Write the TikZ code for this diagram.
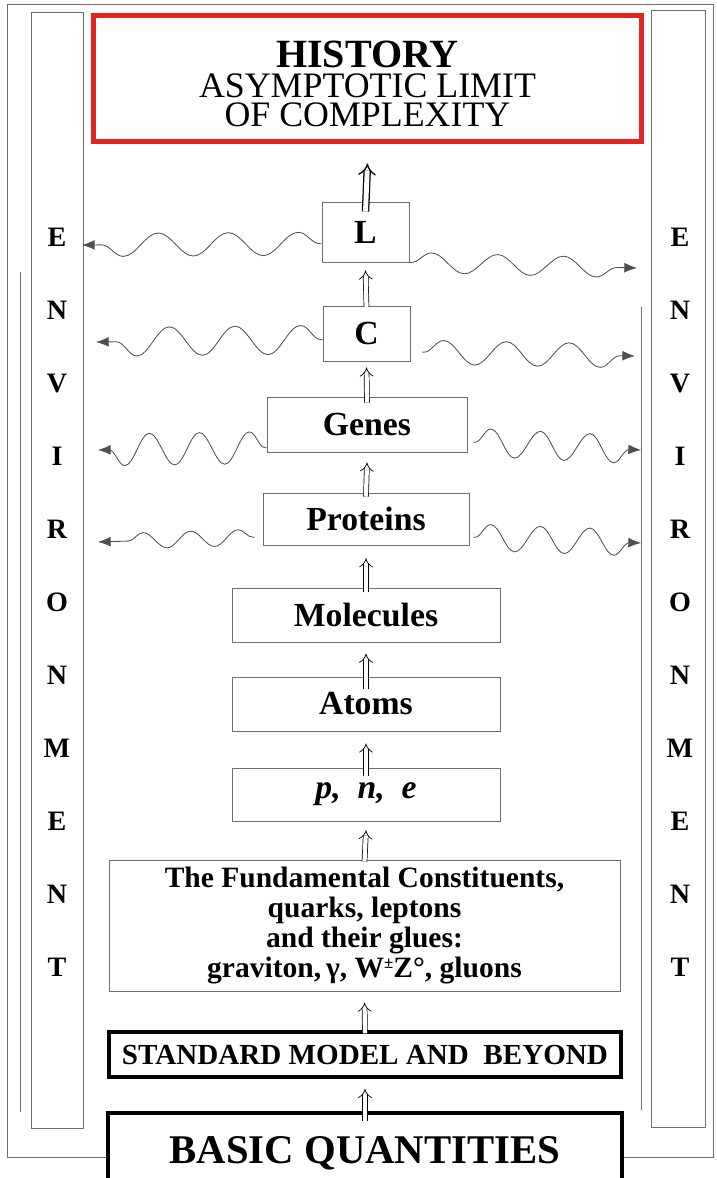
\documentclass[tikz,border=0pt]{standalone}
\usepackage{fontspec}
\setmainfont{Liberation Serif}
\usepackage{xcolor}
\usepackage{tikz}
\usetikzlibrary{arrows.meta, decorations.pathmorphing}
\definecolor{histred}{RGB}{228,36,32}
\definecolor{framegray}{RGB}{110,110,110}
\definecolor{wavegray}{RGB}{80,80,80}

\begin{document}
\begin{tikzpicture}[
        stage/.style={rectangle, draw=framegray, line width=0.6pt, inner sep=0pt,
                      align=center, font=\bfseries\fontsize{24}{26}\selectfont},
        heavy/.style={rectangle, draw=black, line width=2.6pt, fill=white,
                      inner sep=0pt, align=center},
        envtext/.style={inner sep=0pt, align=center,
                        font=\bfseries\fontsize{20}{51.9}\selectfont},
        uparrow/.style={double, double distance=3pt, line width=0.5pt, -{Implies}},
        wave/.style={wavegray, line width=0.6pt, decorate,
                     decoration={snake, segment length=1.6cm, amplitude=0.28cm,
                                 pre length=1pt, post length=0.25cm},
                     -{Latex[length=9pt, width=7pt]}}
      ]
        \useasboundingbox (-9.15,0) rectangle (8.75,-29.45);
        \clip (-9.15,0) rectangle (8.75,-29.45);
        % Frame and environment columns
        \draw[framegray, line width=0.6pt] (-8.975,-0.1) rectangle (8.675,-28.925);
        \draw[framegray, line width=0.6pt] (-8.375,-0.3) rectangle (-7.075,-28.2);
        \draw[framegray, line width=0.6pt] (7.125,-0.25) rectangle (8.475,-28.175);
        \draw[framegray, line width=0.6pt] (-8.65,-6.8) -- (-8.65,-27.8);
        \draw[framegray, line width=0.6pt] (6.875,-7.675) -- (6.875,-27.75);
        % Nodes — manually placed
        \node[draw=histred, line width=3.8pt, minimum width=13.7cm,
              minimum height=3.15cm, inner sep=0pt, align=center,
              font=\fontsize{25.5}{21}\selectfont] (history) at (0.0375,-1.9625)
          {\rule{0pt}{27pt}{\bfseries\fontsize{28.5}{21}\selectfont HISTORY}\\ASYMPTOTIC LIMIT\\OF COMPLEXITY};
        \node[stage, minimum width=2.175cm, minimum height=1.5cm] (L) at (-0.0125,-5.8) {L};
        \node[stage, minimum width=2.175cm, minimum height=1.375cm] (C) at (0.0125,-8.3375) {C};
        \node[stage, minimum width=5cm, minimum height=1.375cm] (genes) at (0.025,-10.6125) {Genes};
        \node[stage, minimum width=5.15cm, minimum height=1.3cm] (proteins) at (0,-12.975) {Proteins};
        \node[stage, minimum width=6.7cm, minimum height=1.35cm] (molecules) at (0,-15.375) {Molecules};
        \node[stage, minimum width=6.7cm, minimum height=1.35cm] (atoms) at (0,-17.6) {Atoms};
        \node[stage, minimum width=6.7cm, minimum height=1.325cm] (pne) at (0,-19.8625)
          {\itshape p,\enspace n,\enspace e};
        \node[stage, minimum width=12.775cm, minimum height=3.275cm,
              font=\bfseries\fontsize{21}{21.3}\selectfont] (fund) at (-0.0375,-23.1375)
          {The Fundamental Constituents,\\quarks, leptons\\and their glues:\\graviton,\,γ, W\raisebox{0.3em}{\fontsize{12}{12}\selectfont ±}Z°, gluons};
        \node[heavy, minimum width=12.8cm, minimum height=1.125cm,
              font=\bfseries\fontsize{20.7}{24}\selectfont] (std) at (-0.025,-26.3625)
          {STANDARD MODEL AND\ \ BEYOND};
        \node[heavy, minimum width=12.85cm, minimum height=2cm,
              font=\bfseries\fontsize{29}{34}\selectfont] (basic) at (-0.025,-28.825)
          {BASIC QUANTITIES};
        \node[envtext] (envleft) at (-7.725,-15.05) {E\\N\\V\\I\\R\\O\\N\\M\\E\\N\\T};
        \node[envtext] (envright) at (7.85,-15.05) {E\\N\\V\\I\\R\\O\\N\\M\\E\\N\\T};
        % Upward arrows
        \draw[uparrow] ([yshift=-0.25cm]basic.north) -- ([yshift=-0.25cm]std.south);
        \draw[uparrow] ([yshift=-0.08cm]std.north) -- ([yshift=-0.28cm]fund.south);
        \draw[uparrow] ([yshift=-0.05cm]fund.north) -- ([yshift=-0.22cm]pne.south);
        \draw[uparrow] ([yshift=-0.22cm]pne.north) -- ([yshift=-0.3cm]atoms.south);
        \draw[uparrow] ([yshift=-0.3cm]atoms.north) -- ([yshift=-0.28cm]molecules.south);
        \draw[uparrow] ([yshift=-0.12cm]molecules.north) -- ([yshift=-0.32cm]proteins.south);
        \draw[uparrow] ([yshift=-0.1cm]proteins.north) -- ([yshift=-0.25cm]genes.south);
        \draw[uparrow] ([yshift=-0.15cm]genes.north) -- ([yshift=-0.15cm]C.south);
        \draw[uparrow] ([yshift=-0.03cm]C.north) -- ([yshift=-0.2cm]L.south);
        \draw[uparrow, line width=0.9pt, double distance=3.5pt]
          ([yshift=-0.25cm]L.north) -- ([yshift=-0.48cm]history.south);
        % Wavy exchanges with the environment
        \coordinate (tipLl) at (-7.1,-6.125);
        \coordinate (tipLr) at (6.775,-6.7);
        \coordinate (tipCl) at (-6.75,-8.55);
        \coordinate (tipCr) at (6.725,-8.9);
        \coordinate (tipGl) at (-6.7,-11.25);
        \coordinate (tipGr) at (6.875,-11.25);
        \coordinate (tipPl) at (-6.7,-13.55);
        \coordinate (tipPr) at (6.875,-13.575);
        \draw[wave, decoration={segment length=1.75cm, amplitude=-0.29cm}] (L.195) -- (tipLl);
        \draw[wave, decoration={segment length=1.65cm, amplitude=0.25cm}] (L.south east) -- (tipLr);
        \draw[wave, decoration={segment length=1.64cm, amplitude=-0.36cm}] (C.188) -- (tipCl);
        \draw[wave, decoration={segment length=1.57cm, amplitude=0.3cm}] ([xshift=0.3cm]C.-23) -- (tipCr);
        \draw[wave, decoration={segment length=1.25cm, amplitude=-0.4cm}] (genes.193) -- (tipGl);
        \draw[wave, decoration={segment length=1.24cm, amplitude=0.35cm}] ([xshift=0.15cm]genes.-10) -- (tipGr);
        \draw[wave, decoration={segment length=1.19cm, amplitude=-0.2cm}] ([xshift=-0.2cm]proteins.190) -- (tipPl);
        \draw[wave, decoration={segment length=1.24cm, amplitude=0.33cm}] ([xshift=0.1cm]proteins.-10) -- (tipPr);
      \end{tikzpicture}
\end{document}
